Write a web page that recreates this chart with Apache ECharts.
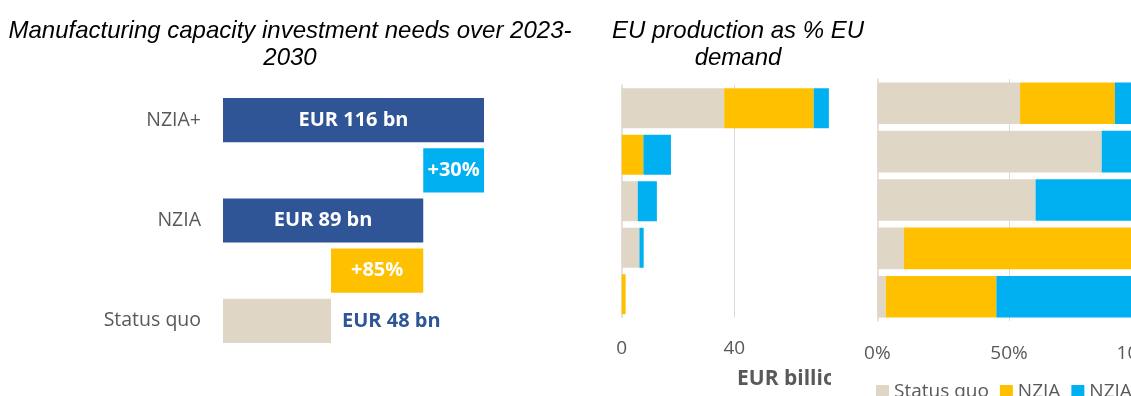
<!DOCTYPE html>
<html>
<head>
<meta charset="utf-8">
<script src="https://cdn.jsdelivr.net/npm/echarts@6/dist/echarts.min.js"></script>
<style>
  html, body { margin: 0; padding: 0; background: #ffffff; }
  #chart { width: 1131px; height: 396px; }
</style>
</head>
<body>
<div id="chart"></div>
<script>
// ---------- Left panel: investment needs (waterfall) ----------
const investCategories = ['NZIA+', 'NZIA+ increase', 'NZIA', 'NZIA increase', 'Status quo'];
const investTickLabels = ['NZIA+', '', 'NZIA', '', 'Status quo'];
const investBase = [0, 89, 0, 48, 0];          // invisible offset of each bar (EUR bn)
const investValues = [116, 27, 89, 41, 48];    // visible bar length (EUR bn)
const investLabels = ['EUR 116 bn', '+30%', 'EUR 89 bn', '+85%', 'EUR 48 bn'];

// ---------- Middle panel: EUR billion by row ----------
const rowCategories = ['Row 1', 'Row 2', 'Row 3', 'Row 4', 'Row 5'];
const eurStatusQuo = [36.4, 0, 5.7, 6.3, 0];
const eurNZIA = [31.8, 7.7, 0, 0, 1.4];
const eurNZIAplus = [5.4, 9.8, 6.8, 1.5, 0];
const eurTicks = [0, 40, 80];

// ---------- Right panel: EU production as % of EU demand ----------
const shareStatusQuo = [54.2, 85.2, 60.1, 10.1, 3.2];
const shareNZIA = [36.0, 0, 0, 89.9, 42.0];
const shareNZIAplus = [9.8, 14.8, 39.9, 0, 54.8];
const shareTicks = [0, 50, 100];

const seriesNames = ['Status quo', 'NZIA', 'NZIA+'];

const C_BEIGE = '#E0D6C6';
const C_YELLOW = '#FFC000';
const C_LIGHTBLUE = '#00B0F0';
const C_DARKBLUE = '#2F5597';
const C_GRAY = '#595959';
const C_GRID = '#D9D9D9';
const investColors = [C_DARKBLUE, C_LIGHTBLUE, C_DARKBLUE, C_YELLOW, C_BEIGE];

const FONT = 'Open Sans';

const chart = echarts.init(document.getElementById('chart'), null, { renderer: 'canvas' });

const titleStyle = {
  fontFamily: 'Liberation Sans',
  fontStyle: 'italic',
  fontWeight: 'normal',
  fontSize: 24,
  lineHeight: 27,
  color: '#000000'
};

const option = {
  animation: false,
  backgroundColor: '#ffffff',
  title: [
    { text: 'Manufacturing capacity investment needs over 2023-\n2030', left: 290, top: 18, textAlign: 'center', padding: 0, textStyle: titleStyle },
    { text: 'EU production as % EU\ndemand', left: 738, top: 18, textAlign: 'center', padding: 0, textStyle: titleStyle }
  ],
  legend: {
    data: seriesNames,
    left: 876,
    top: 382,
    width: 600,
    padding: 0,
    itemWidth: 13,
    itemHeight: 13,
    itemGap: 11,
    icon: 'rect',
    textStyle: { fontFamily: FONT, fontSize: 19, color: C_GRAY }
  },
  grid: [
    { left: 223, top: 95, width: 270, height: 251, outerBoundsMode: 'none' },
    { left: 621.7, top: 85, width: 225.2, height: 232.5, outerBoundsMode: 'none' },
    { left: 877.3, top: 79, width: 263.4, height: 242, outerBoundsMode: 'none' }
  ],
  xAxis: [
    { gridIndex: 0, type: 'value', min: 0, max: 120, show: false },
    {
      gridIndex: 1, type: 'value', min: eurTicks[0], max: eurTicks[eurTicks.length - 1], interval: 40,
      axisLine: { show: false }, axisTick: { show: false },
      axisLabel: { fontFamily: FONT, fontSize: 19, color: C_GRAY, margin: 22 },
      splitLine: { show: true, showMinLine: false, lineStyle: { color: C_GRID, width: 1 } }
    },
    {
      gridIndex: 2, type: 'value', min: shareTicks[0], max: shareTicks[shareTicks.length - 1], interval: 50,
      axisLine: { show: false }, axisTick: { show: false },
      axisLabel: { fontFamily: FONT, fontSize: 19, color: C_GRAY, margin: 23, formatter: '{value}%' },
      splitLine: { show: true, showMinLine: false, lineStyle: { color: C_GRID, width: 1 } }
    }
  ],
  yAxis: [
    {
      gridIndex: 0, type: 'category', data: investCategories, inverse: true,
      axisLine: { show: false }, axisTick: { show: false },
      axisLabel: {
        fontFamily: FONT, fontSize: 19.5, color: C_GRAY, margin: 22,
        formatter: (v, i) => investTickLabels[i]
      }
    },
    {
      gridIndex: 1, type: 'category', data: rowCategories, inverse: true,
      axisLine: { show: true, lineStyle: { color: C_GRID, width: 1.5 } },
      axisTick: { show: false }, axisLabel: { show: false }
    },
    {
      gridIndex: 2, type: 'category', data: rowCategories, inverse: true,
      axisLine: { show: true, lineStyle: { color: C_GRID, width: 1.5 } },
      axisTick: { show: false }, axisLabel: { show: false }
    }
  ],
  graphic: [
    {
      type: 'text', left: 737, top: 369, z: 50,
      style: { text: 'EUR billion', fontFamily: FONT, fontSize: 21, fontWeight: 'bold', fill: C_GRAY }
    },
    {
      type: 'rect', shape: { x: 831, y: 76, width: 29, height: 320 }, z: 100,
      style: { fill: '#ffffff' }, silent: true
    }
  ],
  series: [
    {
      name: 'base', type: 'bar', xAxisIndex: 0, yAxisIndex: 0, stack: 'invest',
      data: investBase, itemStyle: { color: 'transparent' }, silent: true,
      barCategoryGap: '12%'
    },
    {
      name: 'Investment', type: 'bar', xAxisIndex: 0, yAxisIndex: 0, stack: 'invest',
      barCategoryGap: '12%',
      data: investValues.map((v, i) => ({
        value: v,
        itemStyle: { color: investColors[i] },
        label: i === investValues.length - 1
          ? { show: true, position: 'right', distance: 11, color: C_DARKBLUE }
          : { show: true, position: 'inside', color: '#ffffff' }
      })),
      label: {
        show: true, fontFamily: FONT, fontSize: 20, fontWeight: 'bold',
        formatter: (p) => investLabels[p.dataIndex]
      }
    },
    { name: seriesNames[0], type: 'bar', xAxisIndex: 1, yAxisIndex: 1, stack: 'eur', data: eurStatusQuo, itemStyle: { color: C_BEIGE }, barCategoryGap: '14%' },
    { name: seriesNames[1], type: 'bar', xAxisIndex: 1, yAxisIndex: 1, stack: 'eur', data: eurNZIA, itemStyle: { color: C_YELLOW }, barCategoryGap: '14%' },
    { name: seriesNames[2], type: 'bar', xAxisIndex: 1, yAxisIndex: 1, stack: 'eur', data: eurNZIAplus, itemStyle: { color: C_LIGHTBLUE }, barCategoryGap: '14%' },
    { name: seriesNames[0], type: 'bar', xAxisIndex: 2, yAxisIndex: 2, stack: 'share', data: shareStatusQuo, itemStyle: { color: C_BEIGE }, barCategoryGap: '14%' },
    { name: seriesNames[1], type: 'bar', xAxisIndex: 2, yAxisIndex: 2, stack: 'share', data: shareNZIA, itemStyle: { color: C_YELLOW }, barCategoryGap: '14%' },
    { name: seriesNames[2], type: 'bar', xAxisIndex: 2, yAxisIndex: 2, stack: 'share', data: shareNZIAplus, itemStyle: { color: C_LIGHTBLUE }, barCategoryGap: '14%' }
  ]
};

chart.setOption(option);
</script>
</body>
</html>
